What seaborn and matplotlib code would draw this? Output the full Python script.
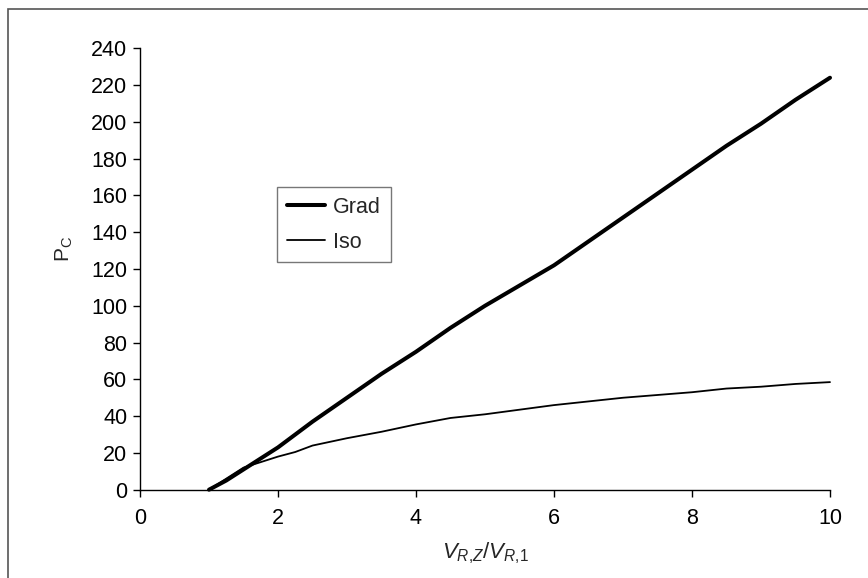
import matplotlib
matplotlib.use("Agg")
import matplotlib.pyplot as plt
import seaborn as sns
import pandas as pd
from matplotlib.patches import Rectangle

# Data
grad_x = [1.0, 1.25, 1.5, 1.75, 2.0, 2.5, 3.0, 3.5, 4.0, 4.5, 5.0, 5.5, 6.0, 6.5,
          7.0, 7.5, 8.0, 8.5, 9.0, 9.5, 10.0]
grad_y = [0, 5, 11, 17, 23, 37, 50, 63, 75, 88, 100, 111, 122, 135,
          148, 161, 174, 187, 199, 212, 224]
iso_x = [1.0, 1.25, 1.5, 1.75, 2.0, 2.25, 2.5, 2.75, 3.0, 3.5, 4.0, 4.5, 5.0,
         5.5, 6.0, 6.5, 7.0, 7.5, 8.0, 8.5, 9.0, 9.5, 10.0]
iso_y = [0, 6, 12, 15, 18, 20.5, 24, 26, 28, 31.5, 35.5, 39, 41,
         43.5, 46, 48, 50, 51.5, 53, 55, 56, 57.5, 58.5]
x_ticks = [0, 2, 4, 6, 8, 10]
y_ticks = list(range(0, 241, 20))

sns.set_style("ticks")
plt.rcParams['font.family'] = ['Liberation Sans', 'DejaVu Sans']
plt.rcParams['mathtext.fontset'] = 'custom'
plt.rcParams['mathtext.rm'] = 'Liberation Sans'
plt.rcParams['mathtext.it'] = 'Liberation Sans:italic'
plt.rcParams['mathtext.bf'] = 'Liberation Sans:bold'

df_grad = pd.DataFrame({"x": grad_x, "y": grad_y})
df_iso = pd.DataFrame({"x": iso_x, "y": iso_y})

fig = plt.figure(figsize=(8.68, 5.78), dpi=100)
ax = fig.add_axes([140/868, 88.3/578, 690/868, 441.4/578])

sns.lineplot(data=df_grad, x="x", y="y", ax=ax, color="black", linewidth=2.9,
             label="Grad", clip_on=False)
sns.lineplot(data=df_iso, x="x", y="y", ax=ax, color="black", linewidth=1.3,
             label="Iso", clip_on=False)

ax.set_xlim(0, 10)
ax.set_ylim(0, 240)
ax.set_xticks(x_ticks)
ax.set_yticks(y_ticks)
ax.tick_params(axis='both', labelsize=15.5, length=5, width=1.0, color='black',
               labelcolor='black', direction='out')
ax.tick_params(axis='y', pad=4)
ax.tick_params(axis='x', pad=8)
for s in ['top', 'right']:
    ax.spines[s].set_visible(False)
for s in ['left', 'bottom']:
    ax.spines[s].set_color('black')
    ax.spines[s].set_linewidth(1.0)

ax.set_xlabel(r"$V_{R{,}Z}/V_{R{,}1}$", fontsize=16)
ax.xaxis.set_label_coords(0.5, -0.115)
ax.set_ylabel(r"$\mathregular{P_C}$", fontsize=15)
ax.yaxis.set_label_coords(-0.094, 0.545)

leg = ax.legend(loc='upper left', bbox_to_anchor=((277-140)/690, (489.7-187)/441.4),
                frameon=True, fancybox=False, fontsize=15.5, handlelength=1.8,
                handletextpad=0.35, borderpad=0.45, labelspacing=0.65,
                borderaxespad=0)
leg.get_frame().set_edgecolor('#555555')
leg.get_frame().set_linewidth(1.0)

fig.patches.append(Rectangle((8/868, -0.05), 1.1, (569/578) + 0.05,
                             transform=fig.transFigure, fill=False,
                             edgecolor='#555555', linewidth=1.2, clip_on=False))

fig.savefig("out.png", dpi=100)
